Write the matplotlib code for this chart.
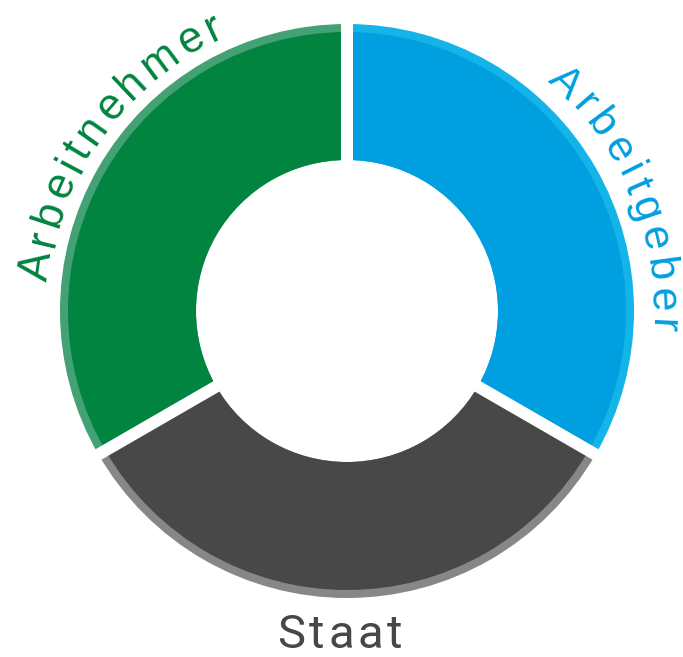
import numpy as np
import matplotlib
matplotlib.use('Agg')
import matplotlib.pyplot as plt
from matplotlib.font_manager import FontProperties

# data: three equal shares, in drawing order (clockwise from top)
labels = ["Arbeitgeber", "Staat", "Arbeitnehmer"]
shares = [1, 1, 1]
colors = ["#009fe0", "#484848", "#00843f"]
rim_colors = ["#14b4e9", "#878787", "#44a173"]
text_colors = ["#009fe0", "#474747", "#00843f"]

W, H = 683, 657
cx, cy = 347, H - 311      # ring centre in pixel coords (y up)
R_out, R_in, rim = 287, 151, 8
gap_px = 12

fig = plt.figure(figsize=(W / 100, H / 100), dpi=100)
ax = fig.add_axes([0, 0, 1, 1])

# light outer rim, then the main ring on top
ax.pie(shares, colors=rim_colors, startangle=90, counterclock=False,
       center=(cx, cy), radius=R_out,
       wedgeprops=dict(width=R_out - R_in, linewidth=0))
ax.pie(shares, colors=colors, startangle=90, counterclock=False,
       center=(cx, cy), radius=R_out - rim,
       wedgeprops=dict(width=R_out - rim - R_in, linewidth=0))

# white separators between the segments
bounds = 90 - 360 * np.cumsum([0] + shares[:-1]) / sum(shares)
for b in bounds:
    t = np.radians(b)
    ax.plot([cx, cx + (R_out + 10) * np.cos(t)], [cy, cy + (R_out + 10) * np.sin(t)],
            color="white", lw=gap_px * 72 / 100, solid_capstyle="butt")

ax.set_xlim(0, W)
ax.set_ylim(0, H)
ax.set_aspect("equal")
ax.axis("off")

renderer = fig.canvas.get_renderer()


def char_widths(text, prop):
    return [renderer.get_text_width_height_descent(ch, prop, ismath=False)[0] for ch in text]


def arc_label(text, r, mid_deg, span_deg, size, color, family="Liberation Sans"):
    # letters along the arc, reading clockwise, tops pointing outwards
    prop = FontProperties(family=family, size=size)
    widths = char_widths(text, prop)
    arc = np.radians(span_deg) * r
    spacing = (arc - sum(widths)) / (len(text) - 1)
    u = -arc / 2
    for ch, w in zip(text, widths):
        th = np.radians(mid_deg) - (u + w / 2) / r
        ax.text(cx + r * np.cos(th), cy + r * np.sin(th), ch,
                rotation=np.degrees(th) - 90, rotation_mode="anchor",
                ha="center", va="baseline", color=color, fontproperties=prop)
        u += w + spacing


def straight_label(text, xc, y, width, size, color, family="Roboto"):
    prop = FontProperties(family=family, size=size)
    widths = char_widths(text, prop)
    spacing = (width - sum(widths)) / (len(text) - 1)
    x = xc - width / 2
    for ch, w in zip(text, widths):
        ax.text(x + w / 2, y, ch, ha="center", va="baseline",
                color=color, fontproperties=prop)
        x += w + spacing


arc_label(labels[0], 304, 22.5, 53, 31, text_colors[0])
arc_label(labels[2], 301, 144.2, 60.5, 31.5, text_colors[2])
straight_label(labels[1], 340, H - 648, 125, 34, text_colors[1])

fig.savefig("out.png", dpi=100)
